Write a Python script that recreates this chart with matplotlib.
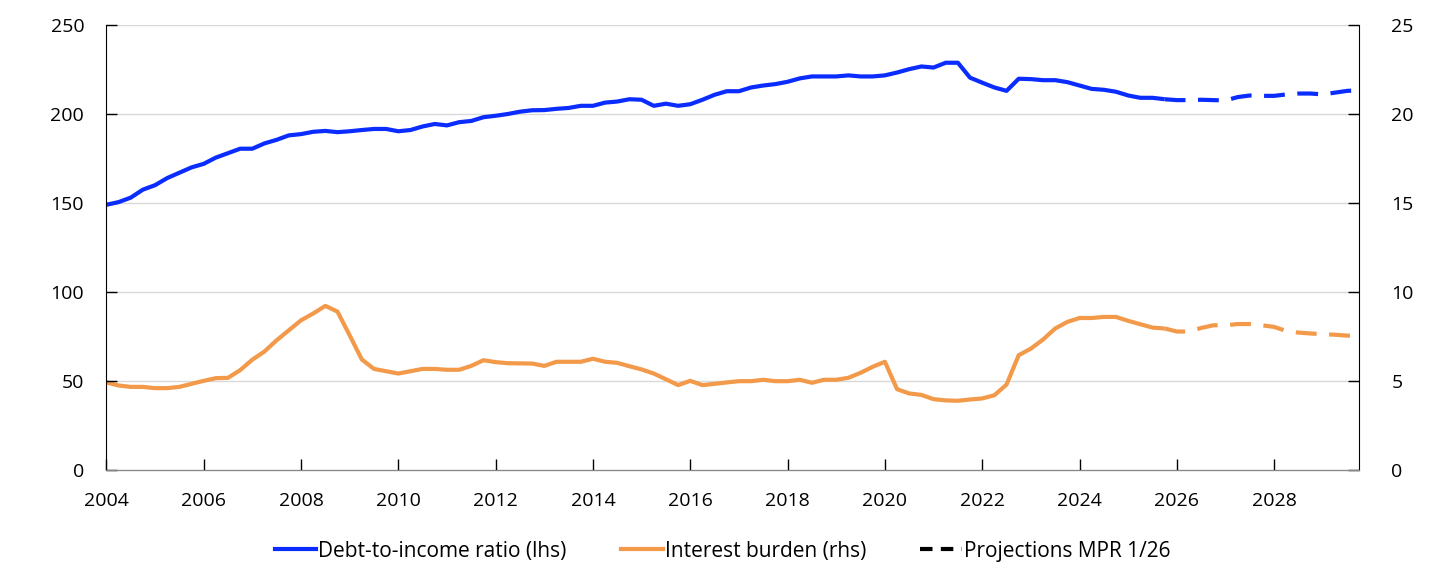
import numpy as np
import matplotlib
matplotlib.use('Agg')
import matplotlib.pyplot as plt
from matplotlib.lines import Line2D

# kvartalsdata, 2004K1 - 2029K4
start_year = 2004
last_hist = 87  # indeks for siste historiske kvartal (2025K4)

debt_income = [
    149, 150.5, 153, 157.5, 160, 164, 167, 170, 172, 175.5,
    178, 180.5, 180.5, 183.5, 185.5, 188, 188.7, 190, 190.5, 189.8,
    190.3, 191, 191.6, 191.6, 190.3, 191, 193, 194.4, 193.6, 195.4,
    196.1, 198.2, 199, 200, 201.3, 202.1, 202.2, 202.9, 203.4, 204.6,
    204.6, 206.4, 207, 208.3, 208, 204.6, 205.8, 204.6, 205.5, 208,
    210.8, 212.8, 212.8, 214.9, 216, 216.8, 218.1, 220, 221.1, 221.1,
    221.1, 221.7, 221.1, 221.1, 221.7, 223.3, 225.2, 226.7, 226.1, 228.8,
    228.8, 220.4, 217.6, 214.9, 213, 219.8, 219.6, 219, 219, 217.9,
    216, 214.1, 213.6, 212.5, 210.4, 209.1, 209.1, 208.3, 207.8, 207.8,
    208, 207.8, 207.6, 209.5, 210.4, 210.2, 210.2, 211, 211.5, 211.5,
    211, 212, 213, 213.3,
]

interest_burden = [
    4.92, 4.75, 4.67, 4.67, 4.6, 4.6, 4.67, 4.84, 5.01, 5.16,
    5.18, 5.61, 6.2, 6.66, 7.29, 7.85, 8.41, 8.79, 9.22, 8.9,
    7.57, 6.21, 5.68, 5.55, 5.42, 5.55, 5.68, 5.68, 5.63, 5.63,
    5.85, 6.17, 6.06, 6.0, 5.99, 5.98, 5.85, 6.08, 6.08, 6.08,
    6.25, 6.08, 6.02, 5.83, 5.65, 5.42, 5.1, 4.77, 5.01, 4.77,
    4.84, 4.92, 4.99, 4.99, 5.07, 4.99, 4.99, 5.07, 4.9, 5.07,
    5.07, 5.18, 5.46, 5.8, 6.08, 4.54, 4.3, 4.22, 3.98, 3.91,
    3.89, 3.96, 4.02, 4.2, 4.8, 6.45, 6.82, 7.33, 7.95, 8.32,
    8.54, 8.54, 8.6, 8.6, 8.38, 8.19, 8.0, 7.95, 7.78, 7.78,
    7.98, 8.13, 8.13, 8.2, 8.2, 8.13, 8.04, 7.81, 7.72, 7.67,
    7.63, 7.6, 7.55, 7.52,
]

x_ticks = [2004, 2006, 2008, 2010, 2012, 2014, 2016, 2018, 2020, 2022, 2024, 2026, 2028]
lhs_ticks = [0, 50, 100, 150, 200, 250]
rhs_ticks = [0, 5, 10, 15, 20, 25]

blue = '#0A2CFF'
orange = '#F2994A'

plt.rcParams['font.family'] = ['Open Sans', 'DejaVu Sans']

x = start_year + np.arange(len(debt_income)) / 4.0
d = np.array(debt_income)
r = np.array(interest_burden)
h = last_hist + 1

fig = plt.figure(figsize=(14.45, 5.76), dpi=100)
ax = fig.add_axes([0.0736, 0.184, 0.8671, 0.7726])
ax2 = ax.twinx()

ax.set_zorder(2)
ax.patch.set_visible(False)

ax.plot(x[:h], d[:h], color=blue, lw=3, solid_capstyle='butt')
ax.plot(x[h - 1:], d[h - 1:], color=blue, lw=3, dashes=(5, 3))
ax2.plot(x[:h], r[:h], color=orange, lw=3, solid_capstyle='butt')
ax2.plot(x[h - 1:], r[h - 1:], color=orange, lw=3, dashes=(5, 3))

ax.set_xlim(start_year, start_year + (len(debt_income) - 1) / 4.0)
ax.set_ylim(0, 250)
ax2.set_ylim(0, 25)
ax.set_xticks(x_ticks)
ax.set_yticks(lhs_ticks)
ax2.set_yticks(rhs_ticks)

ax2.grid(False)
for t in lhs_ticks[1:]:
    ax2.axhline(t / 10, color='#D9D9D9', lw=1, zorder=0)

for a in (ax, ax2):
    a.spines['top'].set_visible(False)
    a.tick_params(labelsize=14, direction='in', length=8, width=1)
ax.spines['right'].set_visible(False)
ax2.spines['left'].set_visible(False)
ax.spines['bottom'].set_color('#888888')
ax.tick_params(axis='y', pad=16)
ax.tick_params(axis='x', pad=16)
ax2.tick_params(axis='y', pad=23)

handles = [
    Line2D([], [], color=blue, lw=3),
    Line2D([], [], color=orange, lw=3),
    Line2D([], [], color='black', lw=3, dashes=(3, 2)),
]
labels = ['Debt-to-income ratio (lhs)', 'Interest burden (rhs)', 'Projections MPR 1/26']
fig.legend(handles, labels, loc='center', bbox_to_anchor=(0.5, 0.043), ncol=3,
           frameon=False, fontsize=15, handlelength=2.0, handletextpad=0.1,
           columnspacing=2.6)

fig.savefig('out.png', dpi=100)
